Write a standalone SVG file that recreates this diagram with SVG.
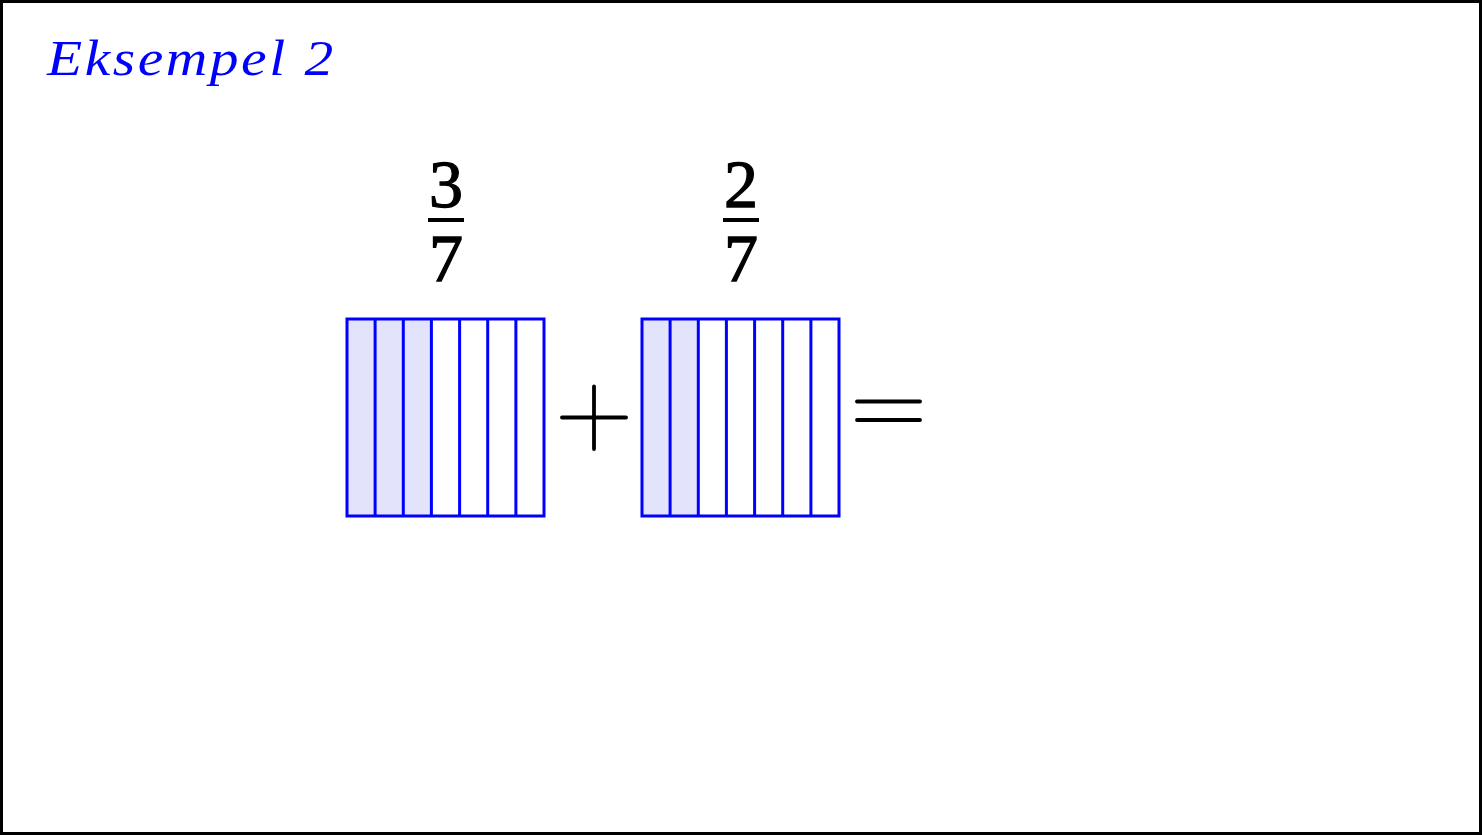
<svg xmlns="http://www.w3.org/2000/svg" width="1482" height="835" viewBox="0 0 1482 835">
<style>
.frame{fill:#fff;stroke:#000;stroke-width:3}
.strip{stroke:#0000ff;stroke-width:3;fill:#fff}
.shade{fill:#e3e3fb}
.op{stroke:#000;stroke-width:3.8;stroke-linecap:round;fill:none}
.bar{stroke:#000;stroke-width:4}
.num{font-family:"Liberation Serif","DejaVu Serif",serif;font-size:68px;fill:#000;stroke:#000;stroke-width:1.3;text-anchor:middle}
.title{font-family:"Liberation Serif","DejaVu Serif",serif;font-style:italic;font-size:50px;fill:#0000ff}
</style>
<rect class="frame" x="1.5" y="1.5" width="1479" height="832"/>
<text class="title" transform="translate(47,75) scale(1.15,1)" x="0" y="0" textLength="249" lengthAdjust="spacing">Eksempel 2</text>
<g id="frac1">
<text class="num" x="446" y="207">3</text>
<line class="bar" x1="428" y1="220" x2="464" y2="220"/>
<text class="num" x="446" y="281">7</text>
</g>
<g id="frac2">
<text class="num" x="741" y="207">2</text>
<line class="bar" x1="723" y1="220" x2="759" y2="220"/>
<text class="num" x="741" y="281">7</text>
</g>
<g id="box1">
<rect class="shade" x="347" y="319" width="84" height="197"/>
<rect class="strip" x="347" y="319" width="197" height="197" style="fill:none"/>
<g class="strip">
<line x1="375.1" y1="319" x2="375.1" y2="516"/>
<line x1="403.3" y1="319" x2="403.3" y2="516"/>
<line x1="431.4" y1="319" x2="431.4" y2="516"/>
<line x1="459.6" y1="319" x2="459.6" y2="516"/>
<line x1="487.7" y1="319" x2="487.7" y2="516"/>
<line x1="515.9" y1="319" x2="515.9" y2="516"/>
</g>
</g>
<g id="plus">
<line class="op" x1="562" y1="417.5" x2="626" y2="417.5"/>
<line class="op" x1="594" y1="386.5" x2="594" y2="449"/>
</g>
<g id="box2">
<rect class="shade" x="642" y="319" width="56" height="197"/>
<rect class="strip" x="642" y="319" width="197" height="197" style="fill:none"/>
<g class="strip">
<line x1="670.1" y1="319" x2="670.1" y2="516"/>
<line x1="698.3" y1="319" x2="698.3" y2="516"/>
<line x1="726.4" y1="319" x2="726.4" y2="516"/>
<line x1="754.6" y1="319" x2="754.6" y2="516"/>
<line x1="782.7" y1="319" x2="782.7" y2="516"/>
<line x1="810.9" y1="319" x2="810.9" y2="516"/>
</g>
</g>
<g id="equals">
<line class="op" x1="857" y1="401.5" x2="920" y2="401.5"/>
<line class="op" x1="857" y1="420" x2="920" y2="420"/>
</g>
<g id="connectors"></g>
</svg>
